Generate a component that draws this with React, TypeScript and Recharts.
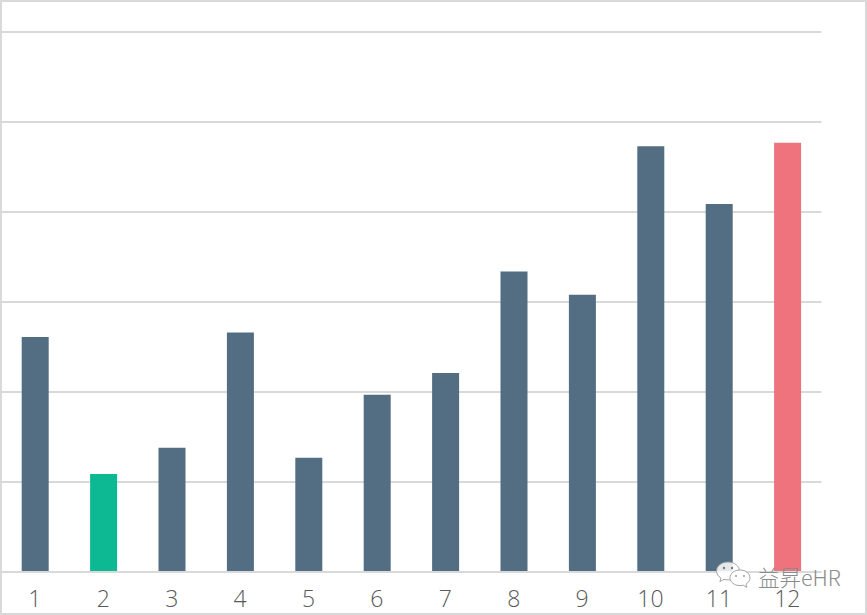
import { BarChart, Bar, Cell, CartesianGrid, XAxis, YAxis } from 'recharts'

const months = ['1', '2', '3', '4', '5', '6', '7', '8', '9', '10', '11', '12']
const values = [26.1, 10.9, 13.8, 26.6, 12.7, 19.7, 22.1, 33.4, 30.8, 47.3, 40.9, 47.7]
const barColors = [
  '#536e83', '#0cb993', '#536e83', '#536e83', '#536e83', '#536e83',
  '#536e83', '#536e83', '#536e83', '#536e83', '#536e83', '#ee737d',
]
const yTicks = [0, 10, 20, 30, 40, 50, 60]

const data = months.map((month, i) => ({ month, value: values[i] }))

function WeChatMark() {
  return (
    <svg width="38" height="30" viewBox="0 0 38 30" style={{ display: 'block' }}>
      <path
        d="M13 2C6.5 2 1.5 6 1.5 11c0 3 1.7 5.4 4.4 7l-1 3.6 4-2.2c1.3.3 2.700.5 4.100.5 6.500 0 11.500-4 11.500-8.900S19.500 2 13 2z"
        fill="#fff"
        fillOpacity={0.85}
        stroke="#9a9a9a"
        strokeWidth={0.9}
      />
      <path
        d="M25 10c-5.600 0-10 3.500-10 7.800s4.400 7.800 10 7.800c1.100 0 2.200-.1 3.200-.4l3.600 2.200-.8-3.300c2.400-1.400 3.900-3.700 3.900-6.300C35 13.500 30.600 10 25 10z"
        fill="#fff"
        stroke="#9a9a9a"
        strokeWidth={0.9}
      />
      <circle cx="9" cy="8" r="1.200" fill="#7a7a7a" />
      <circle cx="17" cy="8" r="1.200" fill="#7a7a7a" />
      <circle cx="21" cy="16" r="1" fill="#9a9a9a" />
      <circle cx="29" cy="16" r="1" fill="#9a9a9a" />
    </svg>
  )
}

export default function App() {
  return (
    <div style={{ position: 'absolute', left: 0, top: 0, width: 867, height: 615, background: '#fff' }}>
      <BarChart
        width={867}
        height={615}
        data={data}
        margin={{ top: 32, right: 45.5, bottom: 0, left: 0.7 }}
        barCategoryGap={0}
      >
        <CartesianGrid vertical={false} stroke="#d9d9d9" strokeWidth={2} />
        <XAxis
          dataKey="month"
          height={43}
          axisLine={{ stroke: '#d9d9d9', strokeWidth: 2 }}
          tickLine={false}
          interval={0}
          tickMargin={13}
          tick={{ fontSize: 23, fontFamily: 'Open Sans', fontWeight: 300, fill: '#595959' }}
        />
        <YAxis hide domain={[0, 60]} ticks={yTicks} />
        <Bar dataKey="value" barSize={27} isAnimationActive={false}>
          {data.map((d, i) => (
            <Cell key={d.month} fill={barColors[i]} />
          ))}
        </Bar>
      </BarChart>
      <div
        style={{
          position: 'absolute',
          inset: 0,
          boxSizing: 'border-box',
          border: '2px solid #d9d9d9',
          pointerEvents: 'none',
        }}
      />
      <div style={{ position: 'absolute', left: 715, top: 560 }}>
        <WeChatMark />
      </div>
      <div
        style={{
          position: 'absolute',
          left: 758,
          top: 563,
          fontFamily: '"Noto Sans CJK SC", "Noto Sans"',
          fontWeight: 300,
          fontSize: 21.5,
          lineHeight: '28px',
          color: '#8c8c8c',
          whiteSpace: 'nowrap',
        }}
      >
        益昇eHR
      </div>
    </div>
  )
}
